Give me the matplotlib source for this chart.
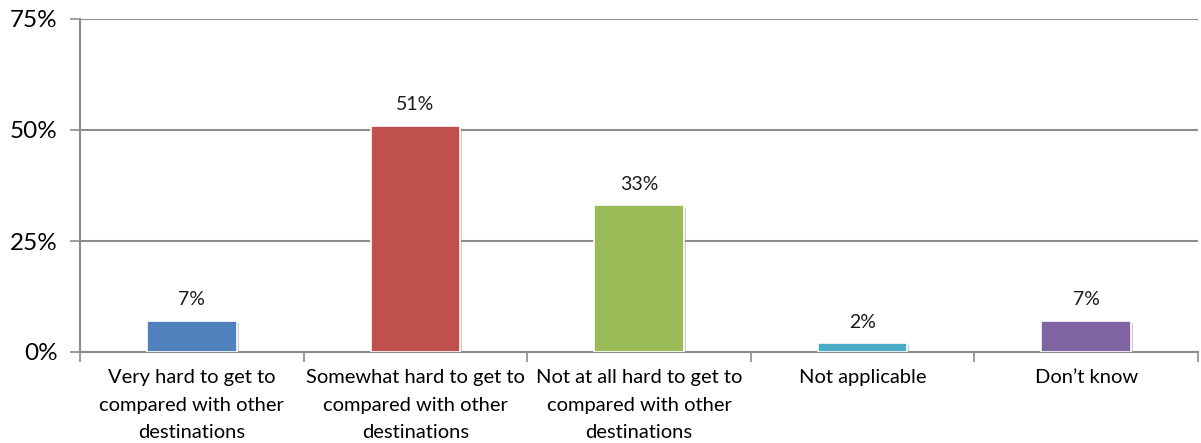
import matplotlib
matplotlib.use("Agg")
import matplotlib.pyplot as plt
import matplotlib.patheffects as pe
import numpy as np

categories = [
    "Very hard to get to\ncompared with other\ndestinations",
    "Somewhat hard to get to\ncompared with other\ndestinations",
    "Not at all hard to get to\ncompared with other\ndestinations",
    "Not applicable",
    "Don\u2019t know",
]
values = [7, 51, 33, 2, 7]
colors = ["#4f81bd", "#c0504d", "#9bbb59", "#4bacc6", "#8064a2"]
yticks = [0, 25, 50, 75]

plt.rcParams['font.family'] = ['Lato', 'DejaVu Sans']
grid_col = "#8c8c8c"

fig = plt.figure(figsize=(12.01, 4.43), dpi=100)
ax = fig.add_axes([80 / 1201, 91 / 443, 1118 / 1201, 333 / 443])

x = np.arange(len(categories))
shadow = [pe.SimplePatchShadow(offset=(1.5, -1.5), shadow_rgbFace="#9a9a9a", alpha=0.5), pe.Normal()]
bars = ax.bar(x, values, width=0.4, color=colors, edgecolor="white", linewidth=1.2, zorder=3)
for b in bars:
    b.set_path_effects(shadow)

for xi, v in zip(x, values):
    ax.annotate(f"{v}%", (xi, v), xytext=(0, 9), textcoords="offset points",
                ha="center", va="bottom", fontsize=14, color="#1a1a1a")

ax.set_xlim(-0.5, len(categories) - 0.5)
ax.set_ylim(0, 75)
ax.set_yticks(yticks)
ax.set_yticklabels([f"{t}%" for t in yticks], fontsize=17.5)
ax.yaxis.grid(True, color=grid_col, linewidth=1.5, zorder=0)
ax.tick_params(axis="y", length=7, width=1.2, color=grid_col, pad=9)

# category labels centred, tick marks on the boundaries
ax.set_xticks(x)
ax.set_xticklabels(categories, fontsize=14.5, linespacing=1.75, va="top")
ax.tick_params(axis="x", length=0, pad=12.5)
ax.set_xticks(np.arange(len(categories) + 1) - 0.5, minor=True)
ax.tick_params(axis="x", which="minor", length=7, width=1.2, color=grid_col)

for s in ["top", "right"]:
    ax.spines[s].set_visible(False)
for s in ["left", "bottom"]:
    ax.spines[s].set_color(grid_col)
    ax.spines[s].set_linewidth(1.5)

fig.savefig("out.png", dpi=100)
